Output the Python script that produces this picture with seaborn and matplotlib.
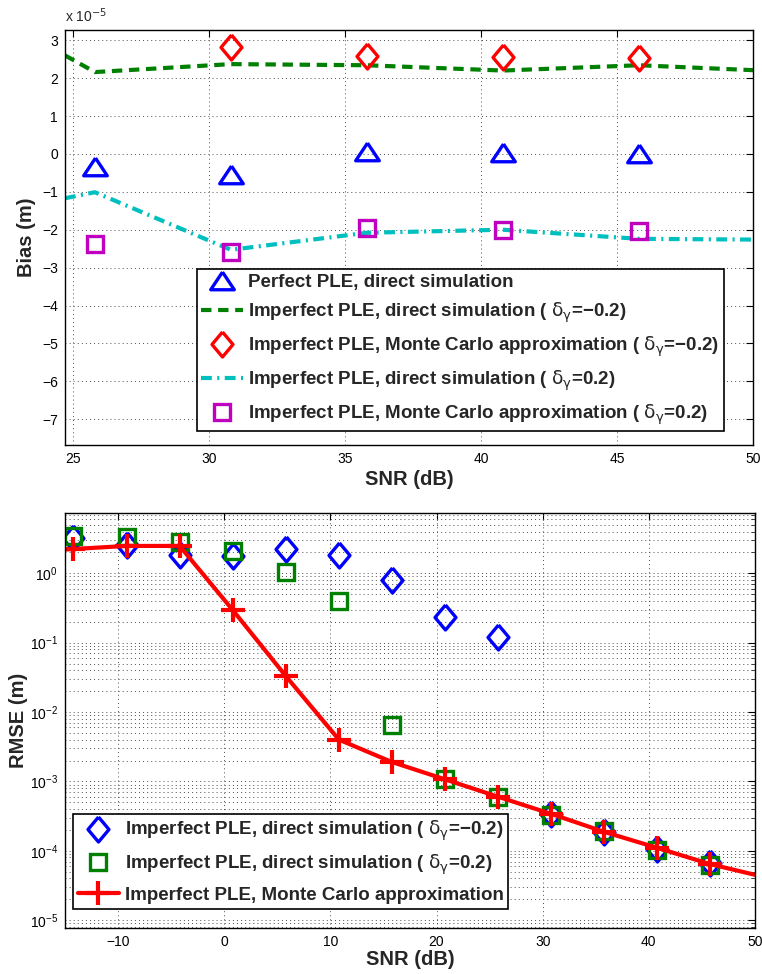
import numpy as np
import matplotlib
matplotlib.use('Agg')
import matplotlib.pyplot as plt
import matplotlib.ticker as mticker
import seaborn as sns

# ==============================================================================
# Data
# ==============================================================================

# --- top panel: bias, values in units of 1e-5 m
snr_marks = [25.8, 30.8, 35.8, 40.8, 45.8]
bias_perfect = [-0.35, -0.55, 0.05, 0.02, 0.0]
bias_mc_neg = [None, 2.82, 2.58, 2.56, 2.52]
bias_mc_pos = [-2.38, -2.58, -1.96, -2.0, -2.04]

snr_curve = [24.7, 25.8, 30.8, 35.8, 40.8, 45.8, 50.0]
bias_direct_neg = [2.60, 2.16, 2.37, 2.34, 2.20, 2.34, 2.21]
bias_direct_pos = [-1.17, -1.01, -2.53, -2.08, -2.0, -2.24, -2.26]

# --- bottom panel: RMSE (m)
snr_rmse = [-14.2, -9.2, -4.2, 0.8, 5.8, 10.8, 15.8, 20.8, 25.8, 30.8, 35.8, 40.8, 45.8]
rmse_direct_neg = [3.2, 2.6, 1.84, 1.78, 2.24, 1.84, 0.80, 0.237, 0.12,
                   3.4e-4, 1.87e-4, 1.07e-4, 6.6e-5]
rmse_direct_pos = [3.4, 3.3, 2.86, 2.1, 1.05, 0.40, 6.6e-3, 1.07e-3, 6.0e-4,
                   3.3e-4, 1.9e-4, 1.04e-4, 6.2e-5]

snr_mc = [-15.0, -14.2, -9.2, -4.2, 0.8, 5.8, 10.8, 15.8, 20.8, 25.8, 30.8, 35.8, 40.8, 45.8, 50.0]
rmse_mc = [2.2, 2.24, 2.48, 2.48, 0.295, 0.033, 4.0e-3, 1.9e-3, 1.07e-3, 6.0e-4,
           3.4e-4, 1.87e-4, 1.1e-4, 6.4e-5, 4.5e-5]
mc_marked = list(range(1, len(snr_mc) - 1))

DG = r'$\mathrm{\delta_{\gamma}}$'
lbl_perfect = 'Perfect PLE, direct simulation'
lbl_dir_neg = 'Imperfect PLE, direct simulation ( ' + DG + '=\u22120.2)'
lbl_mc_neg = 'Imperfect PLE, Monte Carlo approximation ( ' + DG + '=\u22120.2)'
lbl_dir_pos = 'Imperfect PLE, direct simulation ( ' + DG + '=0.2)'
lbl_mc_pos = 'Imperfect PLE, Monte Carlo approximation ( ' + DG + '=0.2)'
lbl_mc = 'Imperfect PLE, Monte Carlo approximation'

BLUE = (0, 0, 1)
GREEN = (0, 0.5, 0)
RED = (1, 0, 0)
CYAN = (0, 0.75, 0.75)
MAGENTA = (0.75, 0, 0.75)

# MATLAB-like marker shapes (wider than matplotlib's defaults)
DIAMOND = [(0, 1), (0.84, 0), (0, -1), (-0.84, 0), (0, 1)]
TRIANGLE = [(0, 0.8), (1, -0.7), (-1, -0.7), (0, 0.8)]

# ==============================================================================
# Style
# ==============================================================================
sns.set_theme(style='white')
plt.rcParams['font.family'] = ['Liberation Sans', 'DejaVu Sans']
plt.rcParams['mathtext.fontset'] = 'custom'
plt.rcParams['mathtext.rm'] = 'DejaVu Sans'
plt.rcParams['mathtext.it'] = 'DejaVu Sans:italic'
plt.rcParams['axes.unicode_minus'] = True

fig = plt.figure(figsize=(7.62, 9.74), dpi=100)
ax1 = fig.add_axes([65 / 762, 1 - 445 / 974, 688 / 762, 415 / 974])
ax2 = fig.add_axes([65 / 762, 1 - 928 / 974, 690 / 762, 415 / 974])

grid_kw = dict(color='0.3', linestyle=(0, (1, 3.2)), linewidth=0.7)


def style_axes(ax):
    for sp in ax.spines.values():
        sp.set_color('black')
        sp.set_linewidth(1.0)
    ax.tick_params(direction='in', top=True, right=True, length=5, width=0.8,
                   labelsize=10, colors='black', pad=5)
    ax.tick_params(which='minor', direction='in', top=True, right=True, length=3, width=0.6)


def marker_only(ax, x, y, marker, color, size, label, mew=2.4):
    sns.lineplot(x=x, y=y, ax=ax, linestyle='none', marker=marker, markersize=size,
                 markerfacecolor='none', markeredgecolor=color, markeredgewidth=mew,
                 color=color, label=label)


# ==============================================================================
# Top panel: Bias
# ==============================================================================
marker_only(ax1, snr_marks, bias_perfect, TRIANGLE, BLUE, 17, lbl_perfect)
sns.lineplot(x=snr_curve, y=bias_direct_neg, ax=ax1, color=GREEN, linewidth=3,
             linestyle=(0, (2.5, 1.6)), label=lbl_dir_neg)
marker_only(ax1, snr_marks[1:], bias_mc_neg[1:], DIAMOND, RED, 18, lbl_mc_neg)
sns.lineplot(x=snr_curve, y=bias_direct_pos, ax=ax1, color=CYAN, linewidth=3,
             linestyle=(0, (2.6, 1.3, 0.5, 1.3)), label=lbl_dir_pos)
marker_only(ax1, snr_marks, bias_mc_pos, 's', MAGENTA, 11, lbl_mc_pos)

ax1.set_xlim(24.7, 50)
ax1.set_ylim(-7.68, 3.27)
ax1.set_xticks(np.arange(25, 51, 5))
ax1.set_yticks(np.arange(-7, 4, 1))
ax1.grid(True, **grid_kw)
style_axes(ax1)
ax1.set_xlabel('SNR (dB)', fontsize=14.5, fontweight='bold', labelpad=3)
ax1.set_ylabel('Bias (m)', fontsize=14.5, fontweight='bold', labelpad=4)
ax1.text(0.0, 1.012, r'x 10$^{-5}$', transform=ax1.transAxes, fontsize=10,
         ha='left', va='bottom')

leg1 = ax1.legend(loc='upper left', bbox_to_anchor=(0.1914, 0.4234), borderaxespad=0,
                  prop={'weight': 'bold', 'size': 13.5}, frameon=True,
                  fancybox=False, edgecolor='black', framealpha=1, handlelength=2.2,
                  handletextpad=0.3, labelspacing=0.5, borderpad=0.25)
leg1.get_frame().set_linewidth(1.2)

# ==============================================================================
# Bottom panel: RMSE
# ==============================================================================
marker_only(ax2, snr_rmse, rmse_direct_neg, DIAMOND, BLUE, 18, lbl_dir_neg)
marker_only(ax2, snr_rmse, rmse_direct_pos, 's', GREEN, 11, lbl_dir_pos)
sns.lineplot(x=snr_mc, y=rmse_mc, ax=ax2, color=RED, linewidth=3, marker='+',
             markersize=17, markeredgewidth=3, markeredgecolor=RED,
             markevery=mc_marked, label=lbl_mc)

ax2.set_yscale('log')
ax2.set_xlim(-15, 50)
ax2.set_ylim(7.7e-6, 7.4)
ax2.set_xticks(np.arange(-10, 51, 10))
ax2.yaxis.set_major_locator(mticker.LogLocator(base=10, numticks=10))
ax2.yaxis.set_minor_locator(mticker.LogLocator(base=10, subs=np.arange(2, 10), numticks=100))
ax2.yaxis.set_minor_formatter(mticker.NullFormatter())
ax2.grid(True, which='major', **grid_kw)
ax2.grid(True, which='minor', axis='y', **grid_kw)
style_axes(ax2)
ax2.set_xlabel('SNR (dB)', fontsize=14.5, fontweight='bold', labelpad=1)
ax2.set_ylabel('RMSE (m)', fontsize=14.5, fontweight='bold', labelpad=1)

leg2 = ax2.legend(loc='upper left', bbox_to_anchor=(0.0116, 0.274), borderaxespad=0,
                  prop={'weight': 'bold', 'size': 13.5}, frameon=True,
                  fancybox=False, edgecolor='black', framealpha=1, handlelength=2.2,
                  handletextpad=0.3, labelspacing=0.5, borderpad=0.25)
leg2.get_frame().set_linewidth(1.2)

fig.savefig('out.png', dpi=100)
